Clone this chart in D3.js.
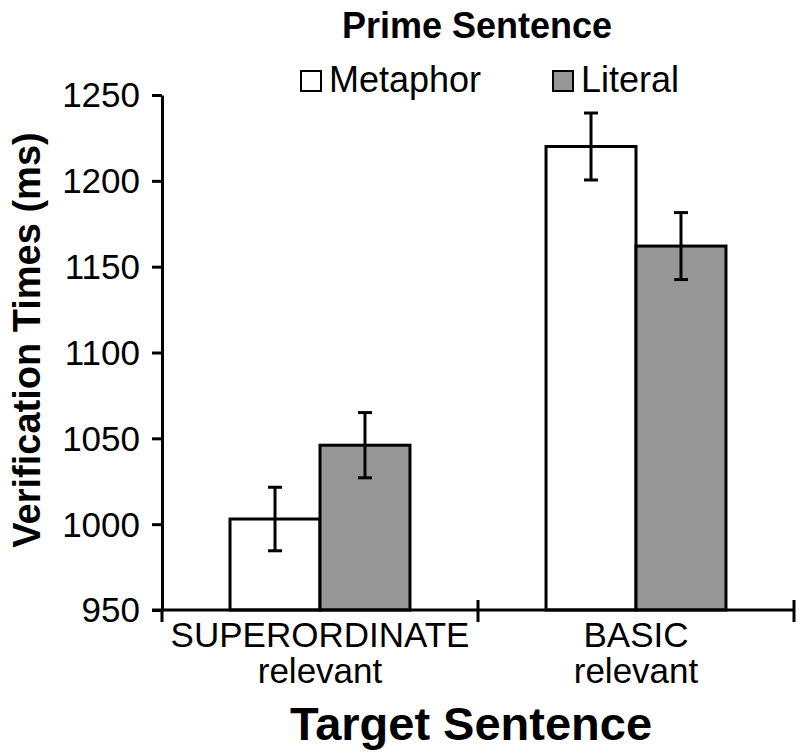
<!DOCTYPE html>
<html>
<head>
<meta charset="utf-8">
<script src="https://cdn.jsdelivr.net/npm/d3@7"></script>
<style>
  body { margin: 0; background: #fff; }
  text { font-family: "Liberation Sans", Arial, sans-serif; fill: #000; }
</style>
</head>
<body>
<div id="chart"></div>
<script>
var categories = ["SUPERORDINATE|relevant", "BASIC|relevant"];
var series = ["Metaphor", "Literal"];
var metaphor = [1003, 1220];
var literal = [1046, 1162];
var metaphorErr = [18.5, 19.5];
var literalErr = [19, 19.5];
var yTicks = [950, 1000, 1050, 1100, 1150, 1200, 1250];
var colors = ["#ffffff", "#969696"];

var width = 800, height = 754;
var margin = {top: 95, right: 6, bottom: 144, left: 162};

var svg = d3.select("#chart").append("svg")
    .attr("width", width)
    .attr("height", height);

var x0 = d3.scaleBand()
    .domain(categories)
    .range([margin.left, width - margin.right]);

var x1 = d3.scaleBand()
    .domain(series)
    .range([0, x0.bandwidth()])
    .paddingOuter(0.756);

var y = d3.scaleLinear()
    .domain([950, 1250])
    .range([height - margin.bottom, margin.top]);

var color = d3.scaleOrdinal().domain(series).range(colors);

// rows of data
var rows = [];
categories.forEach(function (c, i) {
    rows.push({cat: c, s: "Metaphor", v: metaphor[i], e: metaphorErr[i]});
    rows.push({cat: c, s: "Literal", v: literal[i], e: literalErr[i]});
});

// bars
svg.append("g").selectAll("rect")
    .data(rows)
    .enter().append("rect")
    .attr("x", function (d) { return x0(d.cat) + x1(d.s); })
    .attr("y", function (d) { return y(d.v); })
    .attr("width", x1.bandwidth())
    .attr("height", function (d) { return y(950) - y(d.v); })
    .attr("fill", function (d) { return color(d.s); })
    .attr("stroke", "#000")
    .attr("stroke-width", 3);

// error bars
var eb = svg.append("g").selectAll("g")
    .data(rows)
    .enter().append("g")
    .attr("stroke", "#000")
    .attr("stroke-width", 3);
eb.append("line")
    .attr("x1", function (d) { return x0(d.cat) + x1(d.s) + x1.bandwidth() / 2; })
    .attr("x2", function (d) { return x0(d.cat) + x1(d.s) + x1.bandwidth() / 2; })
    .attr("y1", function (d) { return y(d.v + d.e); })
    .attr("y2", function (d) { return y(d.v - d.e); });
[1, -1].forEach(function (sgn) {
    eb.append("line")
        .attr("x1", function (d) { return x0(d.cat) + x1(d.s) + x1.bandwidth() / 2 - 7; })
        .attr("x2", function (d) { return x0(d.cat) + x1(d.s) + x1.bandwidth() / 2 + 7; })
        .attr("y1", function (d) { return y(d.v + sgn * d.e); })
        .attr("y2", function (d) { return y(d.v + sgn * d.e); });
});

// y axis
var yAxis = svg.append("g")
    .attr("transform", "translate(" + margin.left + ",0)")
    .call(d3.axisLeft(y).tickValues(yTicks).tickFormat(d3.format("d"))
        .tickSize(10).tickPadding(12).tickSizeOuter(0));
yAxis.select(".domain").attr("stroke-width", 3);
yAxis.selectAll(".tick line").attr("stroke-width", 3);
yAxis.selectAll(".tick text")
    .style("font-size", "35px")
    .attr("dy", "0.34em");

// x axis
var xAxis = svg.append("g")
    .attr("transform", "translate(0," + y(950) + ")");
xAxis.append("line")
    .attr("x1", margin.left - 10)
    .attr("x2", width - margin.right)
    .attr("stroke", "#000")
    .attr("stroke-width", 3);
var bounds = categories.map(function (c) { return x0(c); }).concat([x0.range()[1]]);
xAxis.selectAll(".xt")
    .data(bounds)
    .enter().append("line")
    .attr("x1", function (d) { return d; })
    .attr("x2", function (d) { return d; })
    .attr("y1", function (d, i) { return i === 0 ? 0 : -10; })
    .attr("y2", 12)
    .attr("stroke", "#000")
    .attr("stroke-width", 3);

var cl = xAxis.selectAll(".cl")
    .data(categories)
    .enter().append("text")
    .attr("text-anchor", "middle")
    .style("font-size", "35px");
cl.append("tspan")
    .attr("x", function (d) { return x0(d) + x0.bandwidth() / 2; })
    .attr("y", 37)
    .text(function (d) { return d.split("|")[0]; });
cl.append("tspan")
    .attr("x", function (d) { return x0(d) + x0.bandwidth() / 2; })
    .attr("y", 73)
    .text(function (d) { return d.split("|")[1]; });

// axis titles
svg.append("text")
    .attr("x", 471)
    .attr("y", 740)
    .attr("text-anchor", "middle")
    .style("font-size", "47px")
    .style("font-weight", "bold")
    .text("Target Sentence");

svg.append("text")
    .attr("transform", "translate(40,340) rotate(-90)")
    .attr("text-anchor", "middle")
    .style("font-size", "38px")
    .style("font-weight", "bold")
    .text("Verification Times (ms)");

// legend
svg.append("text")
    .attr("x", 477)
    .attr("y", 38)
    .attr("text-anchor", "middle")
    .style("font-size", "36px")
    .style("font-weight", "bold")
    .text("Prime Sentence");

var legX = [300, 552];
var leg = svg.append("g").selectAll("g")
    .data(series)
    .enter().append("g")
    .attr("transform", function (d, i) { return "translate(" + legX[i] + ",0)"; });
leg.append("rect")
    .attr("x", 1)
    .attr("y", 71)
    .attr("width", 20)
    .attr("height", 20)
    .attr("fill", function (d) { return color(d); })
    .attr("stroke", "#000")
    .attr("stroke-width", 2);
leg.append("text")
    .attr("x", 29)
    .attr("y", 92)
    .style("font-size", "36px")
    .text(function (d) { return d; });
</script>
</body>
</html>
